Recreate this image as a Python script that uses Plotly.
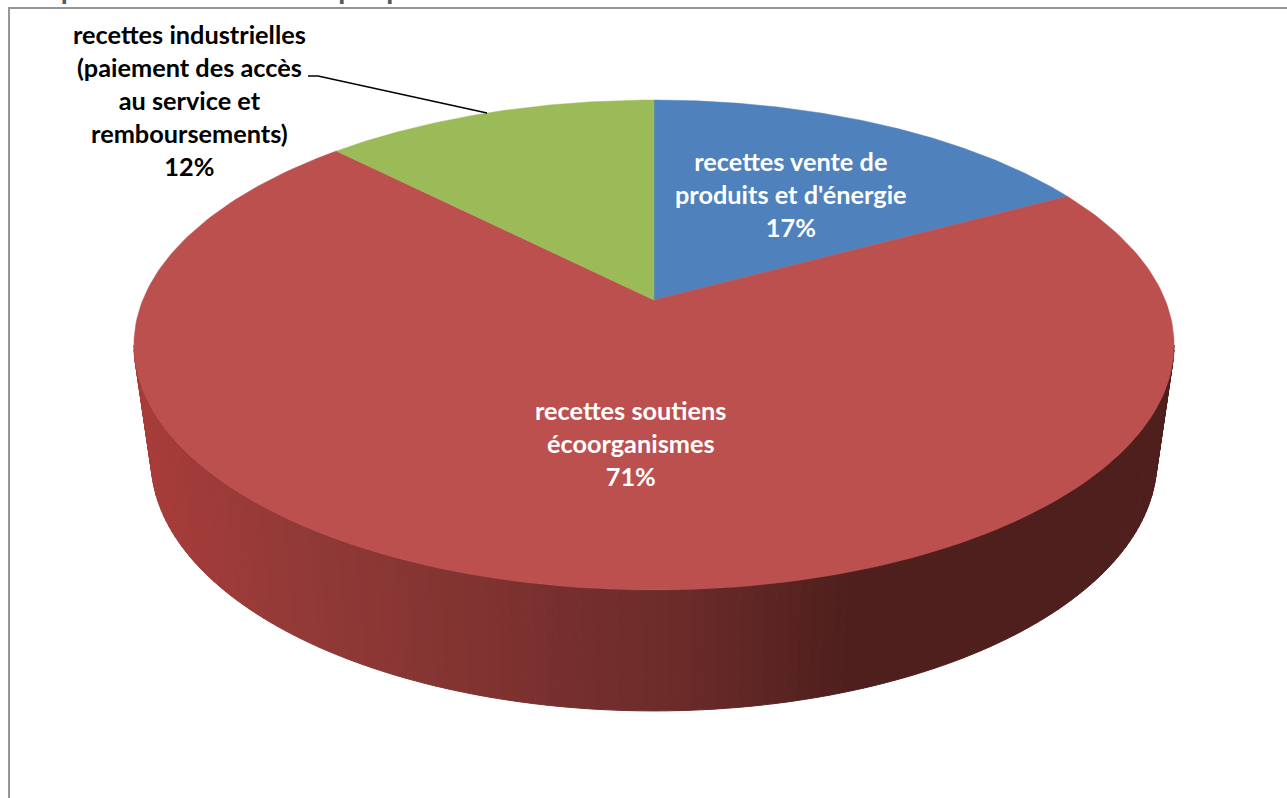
import numpy as np
import plotly.graph_objects as go

# --- data ---
categories = ["recettes vente de produits et d'énergie",
              "recettes soutiens écoorganismes",
              "recettes industrielles (paiement des accès au service et remboursements)"]
values = [17.1, 70.5, 12.4]
percent_labels = ["17%", "71%", "12%"]
top_colors = ["#4F81BD", "#BC504E", "#9BBB59"]
label_lines = [
    ["recettes vente de", "produits et d'énergie"],
    ["recettes soutiens", "écoorganismes"],
    ["recettes industrielles", "(paiement des accès", "au service et", "remboursements)"],
]
label_colors = ["white", "white", "black"]
label_pos = [(791, 194), (630, 442.5), (189, 100)]
title_text = "Répartition des recettes par poste"

# --- projection of the pie disc (perspective view), pixel-based layout ---
W, H = 1287, 798
CX, CY = 654, 300
A, B, K = 511.2, 236.7, 0.1837
DEPTH_Y, BOTTOM_SX, BOTTOM_SY = 114, 0.967, 1.024


def project(theta, r=1.0, bottom=False):
    """theta: clockwise from 12 o'clock, radians."""
    c, s = r * np.sin(theta), r * np.cos(theta)
    w = 1 + K * s
    x, y = A * c / w, -B * s / w
    if bottom:
        return CX + x * BOTTOM_SX, CY + DEPTH_Y + y * BOTTOM_SY
    return CX + x, CY + y


def lerp_color(x):
    xs = [140, 300, 500, 700, 850, 1180]
    rs = [168, 146, 126, 104, 78, 78]
    gs = [60, 58, 50, 42, 31, 31]
    bs = [58, 55, 48, 40, 29, 29]
    return f"rgb({np.interp(x, xs, rs):.0f},{np.interp(x, xs, gs):.0f},{np.interp(x, xs, bs):.0f})"


fig = go.Figure()

# side wall: strips along the front arc between the two silhouette tangents
t0 = np.arccos(-K)  # right tangent angle
t_edges = np.linspace(t0, 2 * np.pi - t0, 141)
for a, b in zip(t_edges[:-1], t_edges[1:]):
    arc = np.linspace(a, b, 4)
    xt, yt = project(arc)
    xb, yb = project(arc[::-1], bottom=True)
    xs = np.concatenate([xt, xb, xt[:1]])
    ys = np.concatenate([yt, yb, yt[:1]])
    col = lerp_color(xs.mean())
    fig.add_trace(go.Scatter(x=xs, y=ys, mode="lines", fill="toself", fillcolor=col,
                             line=dict(color=col, width=1), hoverinfo="skip", showlegend=False))

# top face: wedges from the values, clockwise from 12 o'clock
total = sum(values)
start = 0.0
for name, v, col in zip(categories, values, top_colors):
    end = start + v / total * 2 * np.pi
    arc = np.linspace(start, end, 240)
    xa, ya = project(arc)
    xs = np.concatenate([[CX], xa, [CX]])
    ys = np.concatenate([[CY], ya, [CY]])
    fig.add_trace(go.Scatter(x=xs, y=ys, mode="lines", fill="toself", fillcolor=col,
                             line=dict(color=col, width=0.5), name=name, hoverinfo="name",
                             showlegend=False))
    start = end

# leader line for the third label
fig.add_trace(go.Scatter(x=[308, 318, 487], y=[76, 76, 113], mode="lines",
                         line=dict(color="black", width=1.5), hoverinfo="skip", showlegend=False))

annotations = []
for lines, pct, col, (lx, ly) in zip(label_lines, percent_labels, label_colors, label_pos):
    annotations.append(dict(x=lx, y=ly, xref="x", yref="y", showarrow=False, align="center",
                            text="<b>" + "<br>".join(lines + [pct]) + "</b>",
                            font=dict(family="Lato", size=25.3, color=col)))
annotations.append(dict(x=26 / W, y=1 + 12 / H, xref="paper", yref="paper", showarrow=False,
                        xanchor="left", yanchor="middle",
                        text="<b>" + title_text + "</b>",
                        font=dict(family="Lato", size=28.6, color="#595959")))

fig.update_layout(
    width=W, height=H, margin=dict(l=0, r=0, t=0, b=0),
    paper_bgcolor="white", plot_bgcolor="white", showlegend=False,
    xaxis=dict(range=[0, W], visible=False, fixedrange=True),
    yaxis=dict(range=[H, 0], visible=False, fixedrange=True),
    annotations=annotations,
    shapes=[dict(type="rect", xref="x", yref="y", x0=9, y0=8, x1=W + 5, y1=H + 5,
                 line=dict(color="#969696", width=2), layer="below")],
)
fig.write_html("out.html", config=dict(displayModeBar=False),
               post_script="document.body.style.margin='0';document.documentElement.style.overflow='hidden';")
